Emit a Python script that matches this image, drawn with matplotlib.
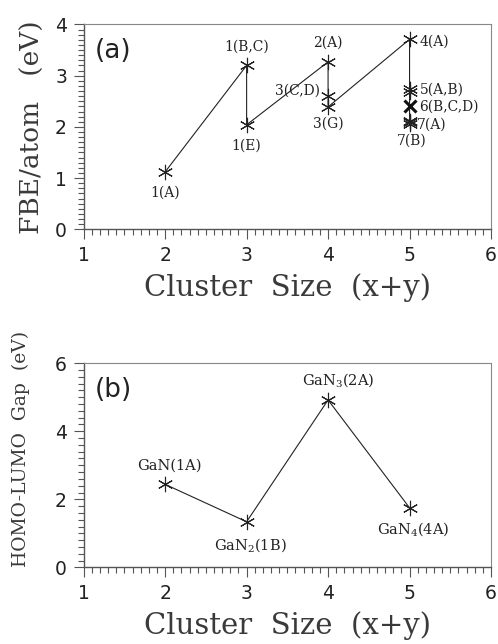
import matplotlib
matplotlib.use("Agg")
import matplotlib.pyplot as plt
from matplotlib.ticker import MultipleLocator

plt.rcParams["mathtext.fontset"] = "dejavuserif"

# Panel (a): fragmentation binding energy per atom
path_size = [2, 3, 3, 4, 4, 5, 5]
path_fbe = [1.12, 3.20, 2.04, 3.27, 2.39, 3.71, 2.06]

extra_size = [4, 5, 5, 5, 5]
extra_fbe = [2.60, 2.73, 2.69, 2.12, 2.09]
bold_size = [5]
bold_fbe = [2.40]

labels_a = ["1(A)", "1(B,C)", "1(E)", "2(A)", "3(C,D)", "3(G)", "4(A)",
            "5(A,B)", "6(B,C,D)", "7(A)", "7(B)"]
label_size_a = [2, 3, 3, 4, 4, 4, 5, 5, 5, 5, 5]
label_fbe_a = [1.12, 3.20, 2.04, 3.27, 2.60, 2.39, 3.71, 2.71, 2.40, 2.11, 2.06]

# Panel (b): HOMO-LUMO gap
gap_size = [2, 3, 4, 5]
gap_ev = [2.44, 1.34, 4.92, 1.75]
labels_b = ["GaN(1A)", r"GaN$_2$(1B)", r"GaN$_3$(2A)", r"GaN$_4$(4A)"]

x_ticks = [1, 2, 3, 4, 5, 6]

ASTER = (6, 2, 0)
INK = "#222222"
SERIF = "DejaVu Serif"

fig = plt.figure(figsize=(4.98, 6.44), dpi=100)
ax_a = fig.add_axes([0.168, 0.644, 0.818, 0.318])
ax_b = fig.add_axes([0.168, 0.119, 0.818, 0.317])


def style_axes(ax, ymax, ymajor, yminor):
    ax.set_xlim(1, 6)
    ax.set_ylim(0, ymax)
    ax.set_xticks(x_ticks)
    ax.xaxis.set_minor_locator(MultipleLocator(0.1))
    ax.yaxis.set_major_locator(MultipleLocator(ymajor))
    ax.yaxis.set_minor_locator(MultipleLocator(yminor))
    ax.tick_params(which="both", direction="out", top=False, right=False,
                   color="#555555", width=0.8)
    ax.tick_params(which="major", length=7, labelsize=13.5, pad=5,
                   labelcolor="#222222")
    ax.tick_params(which="minor", length=4)
    for side in ["left", "bottom"]:
        ax.spines[side].set_color("#555555")
        ax.spines[side].set_linewidth(1.0)
    for side in ["top", "right"]:
        ax.spines[side].set_color("#888888")
        ax.spines[side].set_linewidth(0.8)
    ax.set_xlabel("Cluster  Size  (x+y)", family=SERIF, fontsize=21,
                  color="#3a3a3a", labelpad=6)


# ---- panel (a)
style_axes(ax_a, 4, 1, 0.1)
ax_a.plot(path_size, path_fbe, color=INK, lw=0.8, marker=ASTER,
          markersize=11, markeredgewidth=0.8, markeredgecolor=INK)
ax_a.plot(extra_size, extra_fbe, ls="none", marker=ASTER, markersize=11,
          markeredgewidth=0.8, markeredgecolor=INK)
ax_a.plot(bold_size, bold_fbe, ls="none", marker="x", markersize=8,
          markeredgewidth=2.2, markeredgecolor="#111111")
ax_a.set_ylabel("FBE/atom   (eV)", family=SERIF, fontsize=19,
                color="#3a3a3a", labelpad=7)
ax_a.text(0.027, 0.87, "(a)", transform=ax_a.transAxes, fontsize=19,
          color="#222222", va="center", ha="left")

offsets_a = [(0, -21, "center"), (0, 19, "center"), (0, -21, "center"),
             (0, 19, "center"), (-8, 5, "right"), (0, -17, "center"),
             (10, -2, "left"), (10, 1, "left"), (10, 0, "left"),
             (7, -3, "left"), (2, -17, "center")]
for txt, xs, ys, (dx, dy, ha) in zip(labels_a, label_size_a, label_fbe_a,
                                     offsets_a):
    ax_a.annotate(txt, (xs, ys), xytext=(dx * 0.72, dy * 0.72),
                  textcoords="offset points", ha=ha, va="center",
                  family=SERIF, fontsize=10, color="#222222")

# ---- panel (b)
style_axes(ax_b, 6, 2, 0.2)
ax_b.plot(gap_size, gap_ev, color=INK, lw=0.8, marker=ASTER, markersize=11,
          markeredgewidth=0.8, markeredgecolor=INK)
ax_b.set_ylabel("HOMO-LUMO  Gap  (eV)", family=SERIF, fontsize=13.5,
                color="#3a3a3a")
ax_b.yaxis.set_label_coords(-0.132, 0.582)
ax_b.text(0.027, 0.87, "(b)", transform=ax_b.transAxes, fontsize=19,
          color="#222222", va="center", ha="left")

offsets_b = [(4, 19), (4, -23), (10, 20), (4, -21)]
for txt, xs, ys, (dx, dy) in zip(labels_b, gap_size, gap_ev, offsets_b):
    ax_b.annotate(txt, (xs, ys), xytext=(dx * 0.72, dy * 0.72),
                  textcoords="offset points", ha="center", va="center",
                  family=SERIF, fontsize=10.5, color="#222222")

fig.savefig("out.png", dpi=100)
